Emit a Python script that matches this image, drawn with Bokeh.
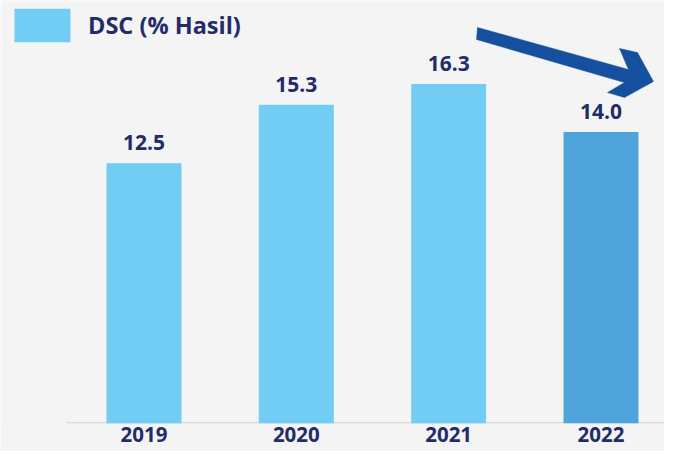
from bokeh.plotting import figure
from bokeh.models import ColumnDataSource, LabelSet, Legend, LegendItem, FixedTicker
from bokeh.core.properties import value
from bokeh.embed import file_html
from bokeh.resources import INLINE

years = ["2019", "2020", "2021", "2022"]
values = [12.5, 15.3, 16.3, 14.0]
bar_colors = ["#71cdf4", "#71cdf4", "#71cdf4", "#4fa4db"]
series_name = "DSC (% Hasil)"

NAVY = "#232b6b"
BG = "#f4f4f4"
FONT = "Open Sans"

W, H = 664, 451
BOTTOM = 28
BASE = H - BOTTOM            # pixel row of the baseline
px_per_x = 152.33
px_per_y = 20.83
x_start = -143.5 / px_per_x
x_end = x_start + W / px_per_x
y_end = BASE / px_per_y

xs = list(range(len(years)))
src = ColumnDataSource(dict(x=xs, top=values, color=bar_colors,
                            label=[f"{v:.1f}" for v in values]))

p = figure(width=W, height=H, output_backend="svg", toolbar_location=None,
           x_range=(x_start, x_end), y_range=(0, y_end),
           min_border_left=0, min_border_right=0, min_border_top=0,
           min_border_bottom=BOTTOM, background_fill_color=BG,
           border_fill_color=BG, outline_line_color=None)


def dx(px):
    return x_start + px / px_per_x


def dy(py):
    return (BASE - py) / px_per_y


# baseline rule (starts a little right of the page edge, as in the original)
p.segment(x0=[dx(66)], y0=[0], x1=[x_end], y1=[0],
          line_color="#dcdce0", line_width=3)

r = p.vbar(x="x", top="top", width=0.492, bottom=0, color="color",
           line_color=None, source=src)

p.add_layout(LabelSet(x="x", y="top", text="label", source=src, y_offset=13,
                      text_align="center", text_baseline="alphabetic",
                      text_font=value(FONT), text_font_style="bold",
                      text_font_size="21px", text_color=NAVY))

# decorative trend arrow
arrow_px = [(477, 27), (628, 69), (619, 48), (637, 52), (653, 81),
            (624, 97), (607, 92), (624, 82), (476, 39)]
p.patch([dx(a) for a, b in arrow_px], [dy(b) for a, b in arrow_px],
        fill_color="#15509e", line_color="#15509e", line_width=0.5)

p.yaxis.visible = False
p.grid.visible = False
ax = p.xaxis[0]
ax.ticker = FixedTicker(ticks=xs)
ax.major_label_overrides = {i: y for i, y in zip(xs, years)}
ax.axis_line_color = None
ax.major_tick_line_color = None
ax.minor_tick_line_color = None
ax.major_tick_out = 0
ax.major_tick_in = 0
ax.major_label_standoff = 3
ax.major_label_text_font = FONT
ax.major_label_text_font_style = "bold"
ax.major_label_text_font_size = "20.5px"
ax.major_label_text_color = NAVY

legend = Legend(items=[LegendItem(label=series_name, renderers=[r], index=0)],
                location=(7, BASE - 42 - 4), orientation="horizontal",
                glyph_width=70, glyph_height=42, label_height=42,
                label_standoff=11, padding=0, margin=0, spacing=0,
                border_line_color=None, background_fill_alpha=0,
                label_text_font=FONT, label_text_font_style="bold",
                label_text_font_size="23.5px", label_text_color=NAVY)
p.add_layout(legend)

open("out.html", "w").write(file_html(p, INLINE))
